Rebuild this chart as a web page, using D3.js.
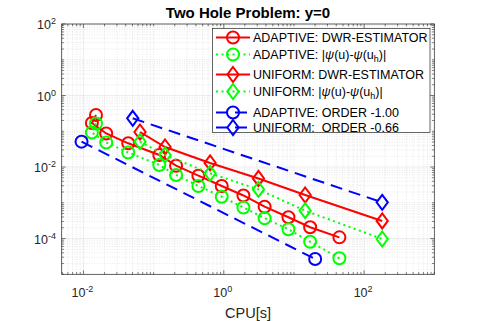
<!DOCTYPE html>
<html>
<head>
<meta charset="utf-8">
<script src="https://cdn.jsdelivr.net/npm/d3@7"></script>
<style>
  body { margin: 0; background: #fff; }
  svg { display: block; font-family: "Liberation Sans", Arial, Helvetica, sans-serif; }
</style>
</head>
<body>
<script>
// cpu times and error values
var adaptCpu = [0.0151, 0.0132, 0.0211, 0.0435, 0.1205, 0.209, 0.4345, 0.935, 1.905, 3.82, 8.34, 17.0, 44.4];
var adaptDwr = [0.285, 0.1705, 0.0867, 0.0461, 0.0217, 0.0109, 0.00573, 0.00295, 0.0016, 0.000778, 0.000394, 0.000207, 0.000108];
var adaptErr = [0.165, 0.0925, 0.0485, 0.0255, 0.0114, 0.00599, 0.00295, 0.00148, 0.00074, 0.000369, 0.000182, 0.0000817, 0.0000281];

var unifCpu = [0.064, 0.1455, 0.638, 3.12, 14.45, 181];
var unifDwr = [0.0955, 0.0363, 0.013, 0.00479, 0.00165, 0.00031];
var unifErr = [0.0512, 0.0217, 0.00668, 0.00236, 0.000601, 0.0000972];

var adaptOrderCpu = [0.0094, 20.05];
var adaptOrderVal = [0.0512, 0.0000268];
var unifOrderCpu = [0.0504, 181];
var unifOrderVal = [0.2307, 0.00103];

var xTicks = [1e-2, 1e0, 1e2];
var yTicks = [1e-4, 1e-2, 1e0, 1e2];

var legendLabels = [
  ["ADAPTIVE: DWR-ESTIMATOR"],
  ["ADAPTIVE: ", "psi"],
  ["UNIFORM: DWR-ESTIMATOR"],
  ["UNIFORM: ", "psi"],
  ["ADAPTIVE: ORDER -1.00"],
  ["UNIFORM:\u00a0 ORDER -0.66"]
];

function drawChart() {
    var W = 480, H = 321;
    var left = 61.7, right = 434.3, top = 24, bottom = 274.3;
    var axisCol = "#262626";

    var svg = d3.select("body").append("svg")
        .attr("width", W)
        .attr("height", H);

    var x = d3.scaleLog().domain([0.0049, 1000]).range([left, right]);
    var y = d3.scaleLog().domain([1e-5, 1e2]).range([bottom, top]);

    function isMajor(list, v) {
        return list.some(function(t) { return Math.abs(Math.log10(t) - Math.log10(v)) < 1e-9; });
    }
    function minors(lo, hi) {
        var out = [];
        for (var e = lo; e < hi; e++) {
            for (var k = 1; k <= 9; k++) out.push(k * Math.pow(10, e));
        }
        return out;
    }
    var xMinor = minors(-3, 4).filter(function(v) {
        return v >= 0.0049 && v <= 1000.001 && !isMajor(xTicks, v);
    });
    var yMinor = minors(-5, 2).filter(function(v) { return !isMajor(yTicks, v); });

    var grid = svg.append("g");
    grid.selectAll(".xm").data(xMinor).enter().append("line")
        .attr("x1", function(d) { return x(d); }).attr("x2", function(d) { return x(d); })
        .attr("y1", top).attr("y2", bottom)
        .attr("stroke", "#d9d9d9").attr("stroke-width", 0.6).attr("stroke-dasharray", "1,1.5");
    grid.selectAll(".ym").data(yMinor).enter().append("line")
        .attr("y1", function(d) { return y(d); }).attr("y2", function(d) { return y(d); })
        .attr("x1", left).attr("x2", right)
        .attr("stroke", "#d9d9d9").attr("stroke-width", 0.6).attr("stroke-dasharray", "1,1.5");
    grid.selectAll(".xM").data(xTicks).enter().append("line")
        .attr("x1", function(d) { return x(d); }).attr("x2", function(d) { return x(d); })
        .attr("y1", top).attr("y2", bottom)
        .attr("stroke", "#e0e0e0").attr("stroke-width", 0.6);
    grid.selectAll(".yM").data(yTicks).enter().append("line")
        .attr("y1", function(d) { return y(d); }).attr("y2", function(d) { return y(d); })
        .attr("x1", left).attr("x2", right)
        .attr("stroke", "#e0e0e0").attr("stroke-width", 0.6);

    // ticks on all sides, pointing inward
    var ticks = svg.append("g").attr("stroke", axisCol).attr("stroke-width", 0.6);
    function xt(vals, len) {
        vals.forEach(function(v) {
            ticks.append("line").attr("x1", x(v)).attr("x2", x(v)).attr("y1", bottom).attr("y2", bottom - len);
            ticks.append("line").attr("x1", x(v)).attr("x2", x(v)).attr("y1", top).attr("y2", top + len);
        });
    }
    function yt(vals, len) {
        vals.forEach(function(v) {
            ticks.append("line").attr("y1", y(v)).attr("y2", y(v)).attr("x1", left).attr("x2", left + len);
            ticks.append("line").attr("y1", y(v)).attr("y2", y(v)).attr("x1", right).attr("x2", right - len);
        });
    }
    xt(xTicks, 4); xt(xMinor, 2.2);
    yt(yTicks, 4); yt(yMinor, 2.2);

    svg.append("rect")
        .attr("x", left).attr("y", top)
        .attr("width", right - left).attr("height", bottom - top)
        .attr("fill", "none").attr("stroke", axisCol).attr("stroke-width", 0.7);

    // tick labels
    function pow10(sel, v) {
        var e = Math.round(Math.log10(v));
        sel.append("tspan").text("10");
        sel.append("tspan").attr("dy", -5).attr("font-size", 9).text(e);
    }
    svg.selectAll(".xl").data(xTicks).enter().append("text")
        .attr("x", function(d) { return x(d) - 1; })
        .attr("y", 297)
        .attr("text-anchor", "middle")
        .attr("font-size", 12.5)
        .attr("fill", axisCol)
        .each(function(d) { pow10(d3.select(this), d); });
    svg.selectAll(".yl").data(yTicks).enter().append("text")
        .attr("x", 56)
        .attr("y", function(d) { return y(d) + 5; })
        .attr("text-anchor", "end")
        .attr("font-size", 12.5)
        .attr("fill", axisCol)
        .each(function(d) { pow10(d3.select(this), d); });

    svg.append("text")
        .attr("x", (left + right) / 2).attr("y", 318)
        .attr("text-anchor", "middle")
        .attr("font-size", 14.5)
        .attr("fill", axisCol)
        .text("CPU[s]");

    svg.append("text")
        .attr("x", (left + right) / 2).attr("y", 17.5)
        .attr("text-anchor", "middle")
        .attr("font-size", 15)
        .attr("font-weight", "bold")
        .attr("fill", "#000")
        .text("Two Hole Problem: y=0");

    // series
    var series = [
        { xs: adaptCpu, ys: adaptDwr, color: "#ff0000", dash: null, marker: "circle" },
        { xs: adaptCpu, ys: adaptErr, color: "#00ff00", dash: "2,3.5", marker: "circle" },
        { xs: unifCpu, ys: unifDwr, color: "#ff0000", dash: null, marker: "diamond" },
        { xs: unifCpu, ys: unifErr, color: "#00ff00", dash: "2,3.5", marker: "diamond" },
        { xs: adaptOrderCpu, ys: adaptOrderVal, color: "#0000ff", dash: "12,7", marker: "circle" },
        { xs: unifOrderCpu, ys: unifOrderVal, color: "#0000ff", dash: "12,7", marker: "diamond" }
    ];

    var line = d3.line()
        .x(function(d) { return x(d[0]); })
        .y(function(d) { return y(d[1]); });

    function drawMarker(g, kind, cx, cy, color) {
        if (kind === "circle") {
            g.append("circle").attr("cx", cx).attr("cy", cy).attr("r", 6)
                .attr("fill", "none").attr("stroke", color).attr("stroke-width", 2);
        } else {
            var r = 7.5;
            g.append("path")
                .attr("d", "M" + cx + "," + (cy - r) + "L" + (cx + r * 0.75) + "," + cy + "L" + cx + "," + (cy + r) + "L" + (cx - r * 0.75) + "," + cy + "Z")
                .attr("fill", "none").attr("stroke", color).attr("stroke-width", 2);
        }
    }

    var plot = svg.append("g");
    series.forEach(function(s) {
        var pts = s.xs.map(function(v, i) { return [v, s.ys[i]]; });
        plot.append("path")
            .datum(pts)
            .attr("d", line)
            .attr("fill", "none")
            .attr("stroke", s.color)
            .attr("stroke-width", 2)
            .attr("stroke-dasharray", s.dash);
        var mg = plot.append("g");
        pts.forEach(function(p) {
            drawMarker(mg, s.marker, x(p[0]), y(p[1]), s.color);
        });
    });

    // legend
    var lg = svg.append("g");
    lg.append("rect")
        .attr("x", 212.5).attr("y", 28.5)
        .attr("width", 217.5).attr("height", 104)
        .attr("fill", "#fff").attr("stroke", axisCol).attr("stroke-width", 0.7);
    var rowY = [37.5, 54.5, 74.5, 91.5, 112.5, 127.5];
    series.forEach(function(s, i) {
        var yy = rowY[i];
        lg.append("line")
            .attr("x1", 216).attr("x2", 250)
            .attr("y1", yy).attr("y2", yy)
            .attr("stroke", s.color).attr("stroke-width", 2)
            .attr("stroke-dasharray", s.dash);
        drawMarker(lg, s.marker, 233, yy, s.color);
        var t = lg.append("text")
            .attr("x", 253).attr("y", yy + 4.5)
            .attr("font-size", 12.5)
            .attr("fill", "#000");
        var lab = legendLabels[i];
        if (lab.length === 1) {
            t.text(lab[0]);
        } else {
            t.append("tspan").text(lab[0] + "|");
            t.append("tspan").attr("font-style", "italic").text("\u03c8");
            t.append("tspan").text("(u)-");
            t.append("tspan").attr("font-style", "italic").text("\u03c8");
            t.append("tspan").text("(u");
            t.append("tspan").attr("dy", 3).attr("font-size", 9).text("h");
            t.append("tspan").attr("dy", -3).text(")|");
        }
    });
}

drawChart();
</script>
</body>
</html>
